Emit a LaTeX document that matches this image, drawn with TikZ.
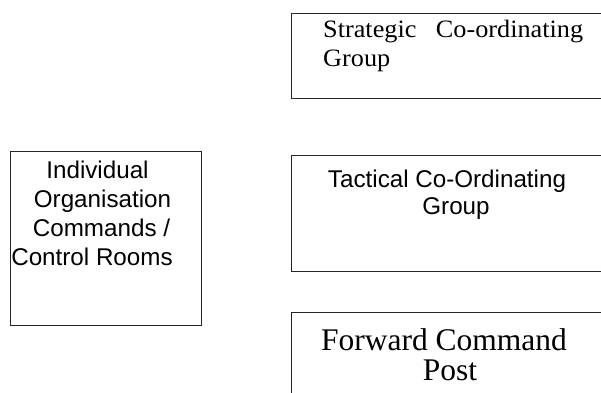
\documentclass[tikz,border=0pt]{standalone}
\usepackage{fontspec}
\setmainfont{Liberation Serif}
\newfontfamily\timeswide[FakeStretch=1.05]{Liberation Serif}
\newfontfamily\arialf{Liberation Sans}
\begin{document}
\begin{tikzpicture}[x=1pt,y=-1pt,
  boxline/.style={draw=black!85,line width=0.9pt},
  serA/.style={inner sep=0pt,anchor=base,font=\timeswide\fontsize{25}{30}\selectfont},
  serB/.style={inner sep=0pt,anchor=base,font=\fontsize{31.5}{36}\selectfont},
  sansA/.style={inner sep=0pt,anchor=base,font=\arialf\fontsize{24.2}{28}\selectfont}]
\useasboundingbox (0,0) rectangle (601,392);
% boxes (right ends run off the picture)
\draw[boxline] (601,13) -- (291.5,13) -- (291.5,98) -- (601,98);
\draw[boxline] (601,155.5) -- (291.5,155.5) -- (291.5,271) -- (601,271);
\draw[boxline] (601,312) -- (291.5,312) -- (291.5,393);
\draw[boxline] (10,151) rectangle (201,325);
% Strategic
\node[serA,anchor=base west] (s1) at (323,37) {\hbox to 260pt{Strategic\hfill Co-ordinating}};
\node[serA,anchor=base west] (s2) at (323,66) {Group};
% Tactical
\node[sansA] (t1) at (447,187) {Tactical Co-Ordinating};
\node[sansA] (t2) at (456,214.5) {Group};
% Forward
\node[serB] (f1) at (444,350) {Forward Command};
\node[serB] (f2) at (450,380) {Post};
% Individual
\node[sansA] (i1) at (97.5,178) {Individual};
\node[sansA] (i2) at (102.5,207) {Organisation};
\node[sansA] (i3) at (101.5,236) {Commands /};
\node[sansA] (i4) at (92,265) {Control Rooms};
\end{tikzpicture}
\end{document}
